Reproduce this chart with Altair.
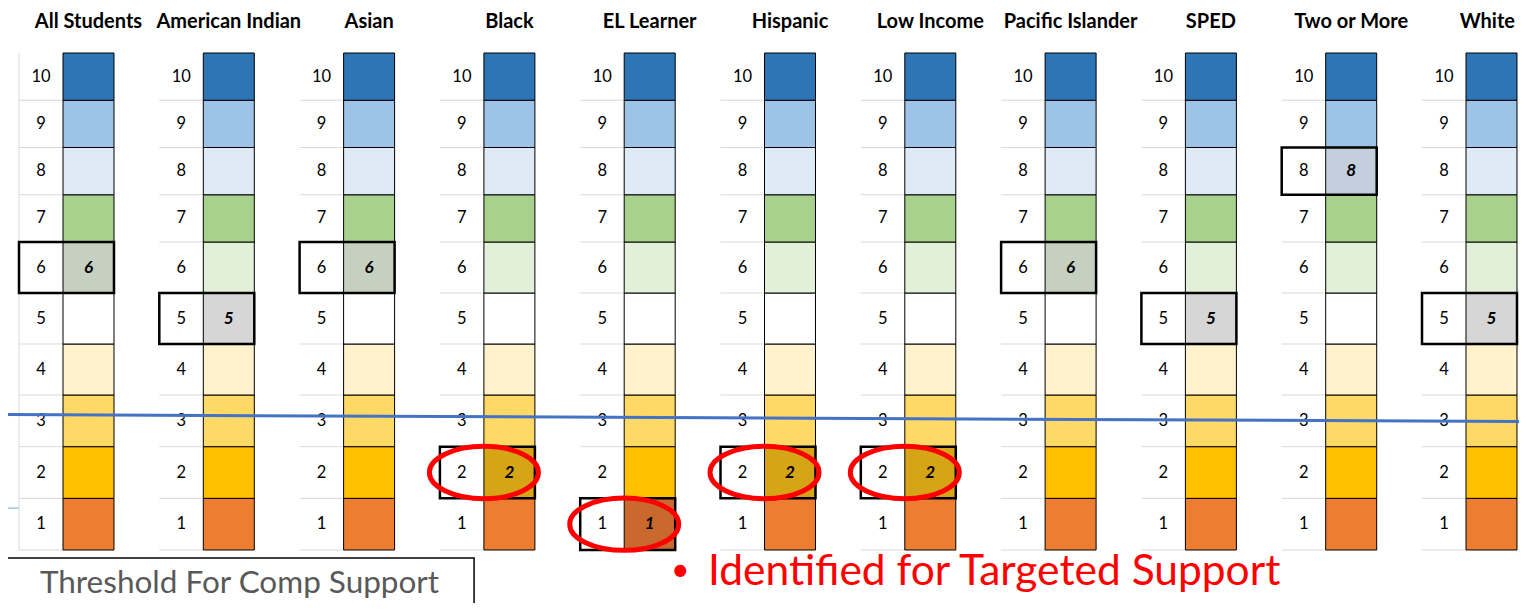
import altair as alt
import pandas as pd

# ---------------- data ----------------
groups = ["All Students", "American Indian", "Asian", "Black", "EL Learner",
          "Hispanic", "Low Income", "Pacific Islander", "SPED", "Two or More", "White"]
levels = [1, 2, 3, 4, 5, 6, 7, 8, 9, 10]
level_colors = ["#ED7D31", "#FFC000", "#FFD966", "#FFF2CC", "#FFFFFF",
                "#E2F0D9", "#A9D18E", "#DEEBF7", "#9DC3E6", "#2E75B6"]
highlight_colors = ["#C9692E", "#D6A417", "#D9B955", "#D8CFB0", "#D6D6D6",
                    "#C6D0C1", "#93B27A", "#C3CFDC", "#86A8C8", "#285F96"]
group_scores = [6, 5, 6, 2, 1, 2, 2, 6, 5, 8, 5]
targeted_groups = ["Black", "EL Learner", "Hispanic", "Low Income"]
threshold_x = [-0.45, 10.45]
threshold_y = [2.622, 2.487]
threshold_label = "Threshold For Comp Support"
targeted_label = "Identified for Targeted Support"

# ---------------- layout constants ----------------
COL_W = 0.3635
LAB_W = 0.3136
FONT = "Lato"
TITLE_SHIFT = {"White": -0.03}

rows = []
for gi, g in enumerate(groups):
    for lv in levels:
        hl = lv == group_scores[gi]
        rows.append(dict(group=g, gi=gi, level=lv,
                         x0=gi, x1=gi + COL_W, lx0=gi - LAB_W, lx=gi - LAB_W / 2,
                         cx=gi + COL_W / 2, y0=lv - 1, y1=lv, ym=lv - 0.5,
                         fill=(highlight_colors if hl else level_colors)[lv - 1],
                         hl=hl))
cells = pd.DataFrame(rows)
hl_cells = cells[cells["hl"]].copy()
hl_cells["txt"] = hl_cells["level"].astype(str)
cells["txt"] = cells["level"].astype(str)

grid_rows = []
for gi, g in enumerate(groups):
    for k in range(0, 10):
        grid_rows.append(dict(gi=gi, xa=gi - LAB_W, xb=gi, y=k))
grid = pd.DataFrame(grid_rows)

titles = pd.DataFrame({"group": groups,
                       "x": [i + COL_W / 2 + TITLE_SHIFT.get(g, 0) for i, g in enumerate(groups)],
                       "y": 10.53})

targ = hl_cells[hl_cells["group"].isin(targeted_groups)].copy()
targ["ex"] = targ["gi"]

thr = pd.DataFrame({"x": threshold_x, "y": threshold_y})

xs = alt.Scale(domain=[0, 10], range=[55, 1458])
ys = alt.Scale(domain=[0, 3, 6, 10], range=[542, 387, 234, 45])


def X(f):
    return alt.X(f, type="quantitative", scale=xs, axis=None)


def Y(f):
    return alt.Y(f, type="quantitative", scale=ys, axis=None)


gridlines = alt.Chart(grid).mark_rule(color="#D9D9D9", strokeWidth=1).encode(
    x=X("xa"), x2="xb", y=Y("y"))

left_rule = alt.Chart(pd.DataFrame({"x": [-LAB_W], "y": [0], "y2": [10]})).mark_rule(
    color="#D9D9D9", strokeWidth=1).encode(x=X("x"), y=Y("y"), y2="y2")

stub = alt.Chart(pd.DataFrame({"x": [-0.45], "x2": [-LAB_W], "y": [0.81]})).mark_rule(
    color="#9DC3E6", strokeWidth=1.5).encode(x=X("x"), x2="x2", y=Y("y"))

rects = alt.Chart(cells).mark_rect(stroke="black", strokeWidth=1).encode(
    x=X("x0"), x2="x1", y=Y("y0"), y2="y1",
    fill=alt.Fill("fill:N", scale=None))

labels = alt.Chart(cells).mark_text(font=FONT, fontSize=16.5, color="black",
                                    baseline="middle", align="center").encode(
    x=X("lx"), y=Y("ym"), text="txt:N")

hl_box = alt.Chart(hl_cells).mark_rect(fill=None, fillOpacity=0, stroke="black", strokeWidth=2.5).encode(
    x=X("lx0"), x2="x1", y=Y("y0"), y2="y1")

hl_text = alt.Chart(hl_cells).mark_text(font=FONT, fontSize=17, fontWeight="bold", fontStyle="italic",
                                        color="black", baseline="middle", align="center").encode(
    x=X("cx"), y=Y("ym"), text="txt:N")

thr_line = alt.Chart(thr).mark_line(color="#4472C4", strokeWidth=3).encode(x=X("x"), y=Y("y"))

ellipse_path = ("M-1,0 C-1,-0.265 -0.552,-0.48 0,-0.48 C0.552,-0.48 1,-0.265 1,0 "
                "C1,0.265 0.552,0.48 0,0.48 C-0.552,0.48 -1,0.265 -1,0 Z")
ellipses = alt.Chart(targ).mark_point(shape=ellipse_path, size=11881, filled=False,
                                      stroke="#FF0000", strokeWidth=5, opacity=1).encode(
    x=X("ex"), y=Y("ym"))

title_text = alt.Chart(titles).mark_text(font=FONT, fontSize=20, fontWeight="bold", color="black",
                                         baseline="alphabetic", align="center").encode(
    x=X("x"), y=Y("y"), text="group:N")

box = alt.Chart(pd.DataFrame({"x": [-0.42], "x2": [2.93], "y": [-0.155], "y2": [-1.16]})).mark_rect(
    fill="white", stroke="black", strokeWidth=1.5).encode(x=X("x"), x2="x2", y=Y("y"), y2="y2")

box_text = alt.Chart(pd.DataFrame({"x": [1.258], "y": [-0.66], "t": [threshold_label]})).mark_text(
    font=FONT, fontSize=31.5, color="#595959", baseline="middle", align="center").encode(
    x=X("x"), y=Y("y"), text="t:N")

bullet = alt.Chart(pd.DataFrame({"x": [4.40], "y": [-0.40], "t": ["•"]})).mark_text(
    font=FONT, fontSize=32, color="#FF0000", baseline="middle", align="center").encode(
    x=X("x"), y=Y("y"), text="t:N")

targ_text = alt.Chart(pd.DataFrame({"x": [4.597], "y": [-0.42], "t": [targeted_label]})).mark_text(
    font=FONT, fontSize=42.5, color="#FF0000", baseline="middle", align="left").encode(
    x=X("x"), y=Y("y"), text="t:N")

chart = alt.layer(
    gridlines, left_rule, stub, rects, labels, hl_box, hl_text, thr_line, ellipses,
    title_text, box, box_text, bullet, targ_text
).properties(
    width=1511, height=595, padding=0, autosize=alt.AutoSizeParams(type="none")
).configure_view(stroke=None)

chart.save("out.html", embed_options={"renderer": "svg", "actions": False})
